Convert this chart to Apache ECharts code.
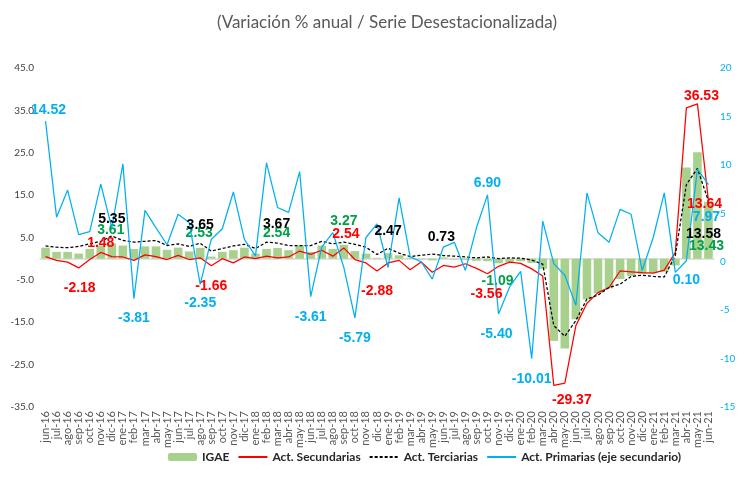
<!DOCTYPE html>
<html>
<head>
<meta charset="utf-8">
<script src="https://cdn.jsdelivr.net/npm/echarts@6/dist/echarts.min.js"></script>
<style>
  html, body { margin: 0; padding: 0; background: #fff; }
  #chart { width: 750px; height: 482px; }
</style>
</head>
<body>
<div id="chart"></div>
<script>
const months = [
  'jun-16','jul-16','ago-16','sep-16','oct-16','nov-16','dic-16',
  'ene-17','feb-17','mar-17','abr-17','may-17','jun-17','jul-17','ago-17','sep-17','oct-17','nov-17','dic-17',
  'ene-18','feb-18','mar-18','abr-18','may-18','jun-18','jul-18','ago-18','sep-18','oct-18','nov-18','dic-18',
  'ene-19','feb-19','mar-19','abr-19','may-19','jun-19','jul-19','ago-19','sep-19','oct-19','nov-19','dic-19',
  'ene-20','feb-20','mar-20','abr-20','may-20','jun-20','jul-20','ago-20','sep-20','oct-20','nov-20','dic-20',
  'ene-21','feb-21','mar-21','abr-21','may-21','jun-21'
]

const igae = [
  2.6, 1.6, 1.6, 1.2, 2.3, 3.1, 3.61,
  3.1, 2.3, 2.9, 2.9, 2.1, 2.6, 1.7, 2.53, 0.5, 1.6, 2.0, 2.6,
  1.2, 2.3, 2.54, 2.0, 3.1, 1.6, 3.1, 2.3, 3.27, 1.8, 1.2, 0.2,
  1.3, 0.8, 0.2, -0.2, -0.4, 0.3, -0.2, -0.3, -0.5, -0.6, -1.09, -0.8,
  -0.6, -1.0, -2.4, -19.4, -21.2, -14.3, -9.6, -8.2, -7.0, -4.8, -4.1, -3.6,
  -3.4, -3.1, -1.6, 21.5, 25.1, 13.43
]

const secundarias = [
  0.5, -0.4, -0.8, -2.18, -0.2, 1.48, 0.5,
  0.4, -0.4, 0.9, 0.5, -0.2, 0.8, -0.2, 0.2, -1.66, 0.0, -1.0, 0.4,
  0.0, 0.6, 0.2, 0.4, 1.8, 1.0, 2.0, 0.6, 2.54, -0.2, -1.0, -2.88,
  -1.0, -0.4, -2.6, -0.8, -3.2, -1.6, -2.0, -1.2, -2.3, -3.56, -1.8, -0.8,
  -1.1, -2.4, -4.1, -29.9, -29.37, -15.8, -10.5, -8.0, -6.8, -2.9, -3.1, -3.3,
  -3.4, -2.7, 1.5, 35.6, 36.53, 13.64
]

const terciarias = [
  3.0, 2.7, 2.6, 2.9, 3.5, 4.1, 5.35,
  4.3, 3.9, 4.1, 4.3, 3.1, 3.5, 2.9, 3.65, 1.8, 2.4, 3.0, 3.4,
  2.4, 3.9, 3.67, 3.1, 3.1, 3.1, 4.1, 3.5, 3.9, 3.4, 2.7, 1.0,
  2.47, 1.3, 0.5, 0.8, 1.1, 0.73, 0.6, 0.4, 0.2, 0.4, 0.0, 0.2,
  0.1, -0.3, -1.3, -15.8, -18.3, -14.6, -9.5, -8.6, -6.8, -6.0, -4.2, -3.9,
  -4.2, -4.3, 0.8, 17.5, 21.3, 13.58
]

const primarias = [
  14.52, 4.6, 7.4, 2.8, 3.1, 8.0, 3.5,
  10.1, -3.81, 5.3, 3.5, 1.75, 4.9, 4.05, -2.35, 2.3, 3.4, 7.2, 2.3,
  0.6, 10.2, 5.6, 5.1, 9.3, -3.61, 1.5, 3.0, -0.6, -5.79, 2.5, 3.9,
  -0.6, 6.6, 0.5, 0.0, -1.8, 1.5, 2.0, -0.9, 3.5, 6.90, -5.40, -2.6,
  -1.0, -10.01, 4.2, -0.2, -1.4, -4.5, 7.1, 3.0, 2.0, 5.4, 4.9, -0.9,
  2.5, 7.1, -1.1, 0.10, 9.55, 7.97
]

const leftTicks = [-35, -25, -15, -5, 5, 15, 25, 35, 45]

// data labels that Excel shows, index -> offset from the point
const igaeLabels = { 6: [-1, -21], 14: [-1, -20], 21: [-1, -20], 27: [0, -31], 41: [-1, 20], 60: [-2, 16] }
const secLabels = { 3: [1, 20], 5: [0, -9], 15: [0, 20], 27: [2, -14], 30: [0, 20], 40: [-1, 20], 47: [7, 17], 59: [4, -8], 60: [-4, 3] }
const terLabels = { 6: [0, -17], 14: [0, -18], 21: [-1, -19], 31: [0, -17], 36: [-2, -18], 60: [-5, 33] }
const priLabels = { 0: [3, -11], 8: [0, 20], 14: [0, 19], 24: [0, 20], 28: [0, 20], 40: [0, -12], 41: [-2, 20], 44: [0, 20], 58: [0, 19], 60: [-2, 33] }

const FONT = 'Lato, "Liberation Sans", sans-serif'

function withLabels(values, labels) {
  return values.map((v, i) => {
    if (!labels[i]) return v
    return { value: v, label: { show: true, position: 'inside', offset: labels[i] } }
  })
}

function labelStyle(color) {
  return {
    show: false,
    color: color,
    fontSize: 14,
    fontWeight: 'bold',
    fontFamily: '"Liberation Sans", sans-serif',
    formatter: p => Number(p.value).toFixed(2)
  }
}

const chart = echarts.init(document.getElementById('chart'), null, { renderer: 'canvas' })

const noSymbol = { opacity: 0 }

const option = {
  backgroundColor: '#fff',
  animation: false,
  title: {
    text: '(Variación % anual / Serie Desestacionalizada)',
    left: 212,
    top: 9,
    textStyle: { fontFamily: FONT, fontSize: 17, fontWeight: 'normal', color: '#595959' }
  },
  legend: {
    left: 163,
    top: 446,
    itemWidth: 29,
    itemHeight: 8,
    itemGap: 8,
    textStyle: { fontFamily: FONT, fontSize: 12, fontWeight: 'bold', color: '#262626' },
    data: [
      { name: 'IGAE' },
      { name: 'Act. Secundarias', itemStyle: noSymbol },
      { name: 'Act. Terciarias', itemStyle: noSymbol },
      { name: 'Act. Primarias (eje secundario)', itemStyle: noSymbol }
    ]
  },
  grid: { left: 40, right: 36, top: 68, bottom: 75, containLabel: false },
  xAxis: [
    {
      type: 'category',
      data: months,
      boundaryGap: true,
      axisLine: { show: false, onZero: false },
      axisTick: { show: false },
      axisLabel: { interval: 0, rotate: 90, fontFamily: FONT, fontSize: 11, color: '#595959', margin: 4 }
    },
    {
      type: 'category',
      data: months,
      position: 'bottom',
      boundaryGap: true,
      axisLine: { show: true, onZero: true, onZeroAxisIndex: 0, lineStyle: { color: '#d9d9d9', width: 1.5 } },
      axisTick: { show: false },
      axisLabel: { show: false }
    }
  ],
  yAxis: [
    {
      type: 'value',
      min: -35,
      max: 45,
      splitLine: { show: false },
      axisLine: { show: false },
      axisTick: { show: false },
      axisLabel: {
        customValues: leftTicks,
        formatter: v => v.toFixed(1),
        fontFamily: FONT, fontSize: 10, color: '#404040', margin: 6
      }
    },
    {
      type: 'value',
      min: -15,
      max: 20,
      interval: 5,
      splitLine: { show: false },
      axisLine: { show: false },
      axisTick: { show: false },
      axisLabel: { fontFamily: FONT, fontSize: 10, color: '#00B0F0', margin: 6 }
    }
  ],
  series: [
    {
      name: 'IGAE',
      type: 'bar',
      xAxisIndex: 0,
      yAxisIndex: 0,
      barWidth: '78%',
      itemStyle: { color: '#A9D18E' },
      label: labelStyle('#00A04A'),
      data: withLabels(igae, igaeLabels)
    },
    {
      name: 'Act. Secundarias',
      type: 'line',
      yAxisIndex: 0,
      symbol: 'circle',
      symbolSize: 0,
      showAllSymbol: true,
      lineStyle: { color: '#FF0000', width: 1.25 },
      itemStyle: { color: '#FF0000' },
      label: labelStyle('#FF0000'),
      data: withLabels(secundarias, secLabels)
    },
    {
      name: 'Act. Terciarias',
      type: 'line',
      yAxisIndex: 0,
      symbol: 'circle',
      symbolSize: 0,
      showAllSymbol: true,
      lineStyle: { color: '#000000', width: 1.25, type: [3, 2] },
      itemStyle: { color: '#000000' },
      label: labelStyle('#000000'),
      data: withLabels(terciarias, terLabels)
    },
    {
      name: 'Act. Primarias (eje secundario)',
      type: 'line',
      yAxisIndex: 1,
      symbol: 'circle',
      symbolSize: 0,
      showAllSymbol: true,
      lineStyle: { color: '#00B0F0', width: 1.25 },
      itemStyle: { color: '#00B0F0' },
      label: labelStyle('#00B0F0'),
      data: withLabels(primarias, priLabels)
    }
  ]
}

chart.setOption(option)
</script>
</body>
</html>
